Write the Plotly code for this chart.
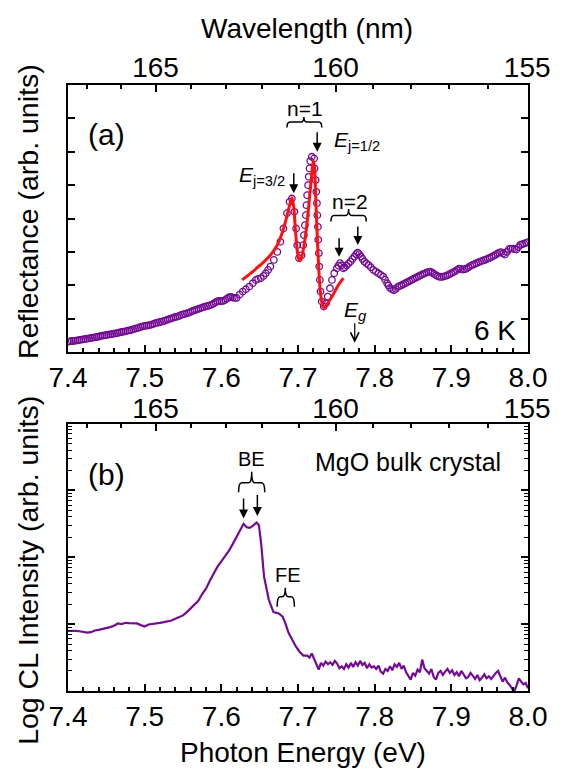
import plotly.graph_objects as go

FONT = "Liberation Sans, Arial, sans-serif"
PURPLE = "#730c92"
HC = 1239.84  # eV*nm

# ---------------- data: panel (a) reflectance (arb. units) ----------------
refl_energy_low = [
    7.4000, 7.4025, 7.4050, 7.4075, 7.4100, 7.4125, 7.4150, 7.4175, 7.4200, 7.4225,
    7.4250, 7.4275, 7.4300, 7.4325, 7.4350, 7.4375, 7.4400, 7.4425, 7.4450, 7.4475,
    7.4500, 7.4525, 7.4550, 7.4575, 7.4600, 7.4625, 7.4650, 7.4675, 7.4700, 7.4725,
    7.4750, 7.4775, 7.4800, 7.4825, 7.4850, 7.4875, 7.4900, 7.4925, 7.4950, 7.4975,
    7.5000, 7.5025, 7.5050, 7.5075, 7.5100, 7.5125, 7.5150, 7.5175, 7.5200, 7.5225,
    7.5250, 7.5275, 7.5300, 7.5325, 7.5350, 7.5375, 7.5400, 7.5425, 7.5450, 7.5475,
    7.5500, 7.5525, 7.5550, 7.5575, 7.5600, 7.5625, 7.5650, 7.5675, 7.5700, 7.5725,
    7.5750, 7.5775, 7.5800, 7.5825, 7.5850, 7.5875, 7.5900, 7.5925, 7.5950, 7.5975,
    7.6000, 7.6025, 7.6050, 7.6075, 7.6100, 7.6125, 7.6150, 7.6175, 7.6200,
]
refl_value_low = [
    0.31, 0.32, 0.33, 0.33, 0.34, 0.35, 0.36, 0.37, 0.38, 0.39,
    0.40, 0.41, 0.42, 0.43, 0.44, 0.45, 0.46, 0.48, 0.49, 0.50,
    0.51, 0.52, 0.53, 0.54, 0.55, 0.56, 0.57, 0.59, 0.60, 0.61,
    0.62, 0.64, 0.65, 0.66, 0.68, 0.70, 0.71, 0.73, 0.75, 0.77,
    0.78, 0.79, 0.80, 0.81, 0.83, 0.85, 0.87, 0.88, 0.90, 0.91,
    0.93, 0.95, 0.97, 0.99, 1.01, 1.03, 1.05, 1.06, 1.08, 1.11,
    1.13, 1.14, 1.16, 1.18, 1.20, 1.23, 1.25, 1.27, 1.29, 1.31,
    1.33, 1.35, 1.37, 1.38, 1.40, 1.42, 1.45, 1.49, 1.52, 1.53,
    1.52, 1.53, 1.56, 1.60, 1.64, 1.65, 1.63, 1.62, 1.62,
]
refl_energy_exc = [
    7.624, 7.628, 7.632, 7.6366, 7.641, 7.645, 7.648, 7.6515, 7.655, 7.658,
    7.661, 7.664, 7.6685, 7.673, 7.677, 7.681, 7.6856, 7.689, 7.692, 7.6953,
    7.6975, 7.699, 7.7013, 7.7047, 7.7068, 7.7077, 7.709, 7.7102, 7.711, 7.7119,
    7.7132, 7.714, 7.715, 7.716, 7.718, 7.721, 7.7217, 7.723, 7.7239, 7.7247,
    7.7252, 7.726, 7.7264, 7.7272, 7.7277, 7.7285, 7.7294, 7.731, 7.7336, 7.7366,
    7.7387, 7.7417, 7.7443, 7.7472, 7.7507, 7.7528, 7.7549, 7.757, 7.7591, 7.761,
    7.7634, 7.766, 7.7685, 7.771, 7.7736, 7.7758, 7.7779, 7.780, 7.7821, 7.7842,
    7.7864, 7.789, 7.7919, 7.795, 7.7983, 7.8015, 7.8047, 7.808, 7.8111, 7.8135,
    7.8162, 7.818,
]
refl_value_exc = [
    1.72, 1.81, 1.88, 1.96, 2.06, 2.16, 2.19, 2.21, 2.28, 2.36,
    2.46, 2.56, 2.76, 3.00, 3.30, 3.70, 4.16, 4.50, 4.60, 4.20,
    3.70, 3.20, 2.81, 2.90, 3.20, 3.50, 3.80, 4.10, 4.40, 4.70,
    5.00, 5.25, 5.50, 5.72, 5.85, 5.80, 5.50, 5.15, 4.80, 4.46,
    4.10, 3.75, 3.36, 2.96, 2.56, 2.16, 1.81, 1.51, 1.36, 1.46,
    1.66, 1.91, 2.16, 2.36, 2.51, 2.59, 2.66, 2.60, 2.51, 2.54,
    2.59, 2.65, 2.71, 2.79, 2.86, 2.93, 2.98, 2.93, 2.86, 2.79,
    2.71, 2.66, 2.61, 2.54, 2.46, 2.41, 2.36, 2.31, 2.26, 2.17,
    2.06, 1.99,
]
refl_energy_high = [
    7.8200, 7.8225, 7.8250, 7.8275, 7.8300, 7.8325, 7.8350, 7.8375, 7.8400, 7.8425,
    7.8450, 7.8475, 7.8500, 7.8525, 7.8550, 7.8575, 7.8600, 7.8625, 7.8650, 7.8675,
    7.8700, 7.8725, 7.8750, 7.8775, 7.8800, 7.8825, 7.8850, 7.8875, 7.8900, 7.8925,
    7.8950, 7.8975, 7.9000, 7.9025, 7.9050, 7.9075, 7.9100, 7.9125, 7.9150, 7.9175,
    7.9200, 7.9225, 7.9250, 7.9275, 7.9300, 7.9325, 7.9350, 7.9375, 7.9400, 7.9425,
    7.9450, 7.9475, 7.9500, 7.9525, 7.9550, 7.9575, 7.9600, 7.9625, 7.9650, 7.9675,
    7.9700, 7.9725, 7.9750, 7.9775, 7.9800, 7.9825, 7.9850, 7.9875, 7.9900, 7.9925,
    7.9950, 7.9975, 8.0000,
]
refl_value_high = [
    1.92, 1.88, 1.85, 1.89, 1.95, 1.98, 2.00, 2.03, 2.06, 2.09,
    2.12, 2.15, 2.18, 2.21, 2.24, 2.27, 2.30, 2.33, 2.35, 2.38,
    2.40, 2.41, 2.38, 2.34, 2.30, 2.27, 2.25, 2.25, 2.26, 2.28,
    2.30, 2.33, 2.36, 2.39, 2.42, 2.46, 2.50, 2.49, 2.47, 2.48,
    2.50, 2.54, 2.58, 2.61, 2.63, 2.66, 2.68, 2.71, 2.73, 2.75,
    2.77, 2.80, 2.82, 2.85, 2.88, 2.91, 2.95, 2.98, 2.99, 2.95,
    2.92, 3.00, 3.08, 3.10, 3.10, 3.08, 3.07, 3.14, 3.21, 3.23,
    3.25, 3.27, 3.29,
]
refl_energy = refl_energy_low + refl_energy_exc + refl_energy_high
refl_value = refl_value_low + refl_value_exc + refl_value_high

fit_energy = [
    7.6272, 7.6409, 7.6537, 7.6643, 7.6728, 7.6792, 7.6843, 7.6885, 7.692, 7.6945,
    7.6962, 7.6983, 7.7004, 7.7026, 7.7055, 7.709, 7.7124, 7.7153, 7.7183, 7.720,
    7.7217, 7.723, 7.7247, 7.7264, 7.7281, 7.7302, 7.7323, 7.7345, 7.7387, 7.7451,
    7.7515, 7.7591,
]
fit_value = [
    2.16, 2.41, 2.66, 2.91, 3.20, 3.56, 3.96, 4.35, 4.62, 4.35,
    3.80, 3.20, 2.83, 2.73, 2.90, 3.36, 4.00, 4.70, 5.40, 5.72,
    5.50, 4.70, 3.70, 2.81, 2.11, 1.61, 1.36, 1.33, 1.46, 1.69,
    1.96, 2.21,
]

# ---------------- data: panel (b) CL spectrum (log10 of intensity) ----------------
cl_energy = [
    7.400, 7.405, 7.410, 7.415, 7.420, 7.425, 7.430, 7.435, 7.440, 7.445,
    7.450, 7.455, 7.460, 7.465, 7.470, 7.475, 7.480, 7.485, 7.490, 7.495,
    7.500, 7.505, 7.510, 7.515, 7.520, 7.525, 7.530, 7.535, 7.540, 7.545,
    7.550, 7.555, 7.560, 7.565, 7.570, 7.575, 7.580, 7.585, 7.590, 7.595,
    7.600, 7.605, 7.610, 7.615, 7.620, 7.625, 7.629, 7.633, 7.637, 7.641,
    7.646, 7.649, 7.652, 7.6557, 7.662, 7.668, 7.6749, 7.680, 7.683, 7.6877,
    7.693, 7.697, 7.7025, 7.707,
    7.712, 7.715, 7.718, 7.721, 7.724, 7.727, 7.730, 7.733, 7.736, 7.739,
    7.742, 7.745, 7.748, 7.751, 7.754, 7.757, 7.760, 7.763, 7.766, 7.769,
    7.772, 7.775, 7.778, 7.781, 7.784, 7.787, 7.790, 7.793, 7.796, 7.799,
    7.802, 7.805, 7.808, 7.811, 7.814, 7.817, 7.820, 7.823, 7.826, 7.829,
    7.832, 7.835, 7.838, 7.841, 7.844, 7.847, 7.850, 7.853, 7.856, 7.859,
    7.862, 7.865, 7.868, 7.871, 7.874, 7.877, 7.880, 7.883, 7.886, 7.889,
    7.892, 7.895, 7.898, 7.901, 7.904, 7.907, 7.910, 7.913, 7.916, 7.919,
    7.922, 7.925, 7.928, 7.931, 7.934, 7.937, 7.940, 7.943, 7.946, 7.949,
    7.952, 7.955, 7.958, 7.961, 7.964, 7.967, 7.970, 7.973, 7.976, 7.979,
    7.982, 7.985, 7.988, 7.991, 7.994, 7.997, 8.000,
]
cl_log10 = [
    0.897, 0.900, 0.900, 0.893, 0.880, 0.872, 0.880, 0.905, 0.915, 0.925,
    0.940, 0.955, 0.975, 1.010, 1.000, 1.020, 1.015, 1.010, 1.010, 0.985,
    0.965, 0.995, 1.000, 1.005, 1.020, 1.030, 1.040, 1.055, 1.080, 1.110,
    1.130, 1.180, 1.240, 1.290, 1.350, 1.450, 1.530, 1.650, 1.760, 1.860,
    1.940, 2.020, 2.100, 2.200, 2.310, 2.430, 2.500, 2.450, 2.440, 2.470,
    2.520, 2.480, 2.200, 1.710, 1.360, 1.180, 1.160, 1.110, 1.030, 0.870,
    0.750, 0.670, 0.580, 0.530,
    0.53, 0.50, 0.56, 0.49, 0.40, 0.32, 0.42, 0.38, 0.44, 0.40,
    0.43, 0.39, 0.45, 0.41, 0.34, 0.37, 0.33, 0.40, 0.35, 0.42,
    0.36, 0.43, 0.38, 0.45, 0.39, 0.42, 0.34, 0.40, 0.35, 0.37,
    0.33, 0.38, 0.29, 0.26, 0.33, 0.30, 0.37, 0.31, 0.40, 0.36,
    0.42, 0.33, 0.38, 0.28, 0.22, 0.17, 0.27, 0.23, 0.32, 0.28,
    0.47, 0.34, 0.30, 0.26, 0.33, 0.21, 0.17, 0.27, 0.30, 0.24,
    0.29, 0.33, 0.27, 0.31, 0.24, 0.28, 0.22, 0.30, 0.25, 0.19,
    0.21, 0.27, 0.23, 0.18, 0.24, 0.16, 0.20, 0.25, 0.19, 0.22,
    0.18, 0.23, 0.27, 0.30, 0.22, 0.14, 0.20, 0.13, 0.09, 0.03,
    -0.01, 0.08, 0.19, 0.14, 0.10, 0.12, 0.04,
]
cl_intensity = [10 ** v for v in cl_log10]

# ---------------- tick definitions ----------------
energy_ticks = [7.4, 7.5, 7.6, 7.7, 7.8, 7.9, 8.0]
wl_major = [165, 160, 155]
wl_minor = [156, 157, 158, 159, 161, 162, 163, 164, 166, 167]
refl_ticks = [1, 2, 3, 4, 5, 6, 7]

fig = go.Figure()
fig.add_trace(go.Scatter(
    x=refl_energy, y=refl_value, mode="markers", xaxis="x", yaxis="y",
    marker=dict(symbol="circle-open", size=6.5, color=PURPLE, line=dict(width=1.3, color=PURPLE)),
    showlegend=False, hoverinfo="skip"))
fig.add_trace(go.Scatter(
    x=fit_energy, y=fit_value, mode="lines", xaxis="x", yaxis="y",
    line=dict(color="#ff1010", width=3, shape="spline", smoothing=0.6),
    showlegend=False, hoverinfo="skip"))
fig.add_trace(go.Scatter(
    x=cl_energy, y=cl_intensity, mode="lines", xaxis="x3", yaxis="y2",
    line=dict(color=PURPLE, width=2.2),
    showlegend=False, hoverinfo="skip"))
# empty traces so the wavelength axes get drawn
fig.add_trace(go.Scatter(x=[], y=[], xaxis="x2", yaxis="y", showlegend=False))
fig.add_trace(go.Scatter(x=[], y=[], xaxis="x4", yaxis="y2", showlegend=False))

tickfont = dict(family=FONT, size=28, color="black")
line_kw = dict(showline=True, linewidth=2, linecolor="black", showgrid=False, zeroline=False)

energy_axis = dict(
    range=[7.4, 8.0], tickmode="array", tickvals=energy_ticks,
    ticktext=[f"{v:.1f}" for v in energy_ticks],
    ticks="inside", ticklen=7, tickwidth=1.5, tickcolor="black",
    minor=dict(dtick=0.02, tick0=7.4, ticks="inside", ticklen=4, tickwidth=1.5, tickcolor="black", showgrid=False),
    tickfont=tickfont, ticklabelstandoff=-1, **line_kw)

wl_axis = dict(
    range=[7.4, 8.0], tickmode="array", tickvals=[HC / w for w in wl_major],
    ticktext=[str(w) for w in wl_major], side="top",
    ticks="inside", ticklen=7, tickwidth=1.5, tickcolor="black",
    minor=dict(tickmode="array", tickvals=[HC / w for w in wl_minor], ticks="inside",
               ticklen=4, tickwidth=1.5, tickcolor="black", showgrid=False),
    tickfont=tickfont, **line_kw)

# the page body has an 8 px default margin, so the figure is sized to compensate
fig.update_layout(
    width=555, height=763,
    margin=dict(l=60, r=25, t=77, b=80),
    paper_bgcolor="white", plot_bgcolor="white",
    font=dict(family=FONT, color="black"),
    xaxis=dict(anchor="y", domain=[0, 1], **energy_axis),
    xaxis2=dict(anchor="y", overlaying="x", ticklabelstandoff=-5, **wl_axis),
    xaxis3=dict(anchor="y2", domain=[0, 1], **energy_axis),
    xaxis4=dict(anchor="y2", overlaying="x3", ticklabelstandoff=-8, **wl_axis),
    yaxis=dict(anchor="x", domain=[0.5594, 1.0], range=[0, 8], tickmode="array", tickvals=refl_ticks,
               showticklabels=False, ticks="inside", ticklen=7, tickwidth=1.5, tickcolor="black",
               mirror="ticks", **line_kw),
    yaxis2=dict(anchor="x3", domain=[0, 0.4414], type="log", range=[0, 4], dtick=1,
                showticklabels=False, ticks="inside", ticklen=7, tickwidth=1.5, tickcolor="black",
                minor=dict(ticks="inside", ticklen=4, tickwidth=1.2, tickcolor="black", showgrid=False),
                mirror="ticks", **line_kw),
)

ann = []
def label(text, x, y, size, xref="x", yref="y", xanchor="center", yanchor="middle", angle=0):
    ann.append(dict(text=text, x=x, y=y, xref=xref, yref=yref, showarrow=False,
                    xanchor=xanchor, yanchor=yanchor, textangle=angle,
                    font=dict(family=FONT, size=size, color="black")))

def arrow(x, y_tip, y_tail, xref="x", yref="y", head=2, size=1.2, width=1.5):
    ann.append(dict(text="", x=x, y=y_tip, ax=x, ay=y_tail, xref=xref, yref=yref,
                    axref=xref, ayref=yref, showarrow=True, arrowhead=head,
                    arrowsize=size, arrowwidth=width, arrowcolor="black", standoff=0))

# axis titles
label("Wavelength (nm)", 0.52, 1.094, 28, xref="paper", yref="paper")
label("Photon Energy (eV)", 0.511, -0.102, 28, xref="paper", yref="paper")
label("Reflectance (arb. units)", -0.0872, 0.792, 28.5, xref="paper", yref="paper", angle=-90)
label("Log CL Intensity (arb. units)", -0.0872, 0.1997, 28.5, xref="paper", yref="paper", angle=-90)

# panel (a) labels
label("(a)", 7.4504, 6.53, 30)
label("6 K", 7.957, 0.63, 28)
label("n=1", 7.7096, 7.30, 21)
label("n=2", 7.768, 4.51, 21)
label("<i>E</i><sub>j=1/2</sub>", 7.7447, 6.32, 21, xanchor="left")
label("<i>E</i><sub>j=3/2</sub>", 7.6856, 5.27, 21, xanchor="right")
label("<i>E<sub>g</sub></i>", 7.7753, 1.23, 21)
arrow(7.725, 6.0, 6.63)
arrow(7.6945, 4.755, 5.40)
arrow(7.7536, 2.855, 3.455)
arrow(7.778, 3.206, 3.805)
arrow(7.774, 0.28, 0.91, head=5, size=1.4, width=1.2)

# panel (b) labels
label("(b)", 7.4504, 3.24, 30, xref="x3", yref="y2")
label("MgO bulk crystal", 7.843, 3.42, 25, xref="x3", yref="y2")
label("BE", 7.6387, 3.47, 20, xref="x3", yref="y2")
label("FE", 7.6872, 1.73, 20, xref="x3", yref="y2")
arrow(7.629, 2.58, 2.90, xref="x3", yref="y2")
arrow(7.647, 2.616, 2.955, xref="x3", yref="y2")

fig.update_layout(annotations=ann)

# curly brackets (x in energy, y in paper coordinates)
def bracket(xl, xr, xc, y_line, y_end, y_nub, xref):
    d = 0.004
    path = (f"M {xl},{y_end} Q {xl},{y_line} {xl + d},{y_line} "
            f"L {xc - d},{y_line} Q {xc},{y_line} {xc},{y_nub} "
            f"Q {xc},{y_line} {xc + d},{y_line} L {xr - d},{y_line} "
            f"Q {xr},{y_line} {xr},{y_end}")
    fig.add_shape(type="path", path=path, xref=xref, yref="paper",
                  line=dict(color="black", width=1.5))

bracket(7.6856, 7.731, 7.7077, 0.9389, 0.9299, 0.9472, "x")
bracket(7.743, 7.789, 7.766, 0.7847, 0.7748, 0.7954, "x")
bracket(7.6225, 7.6566, 7.6396, 0.3437, 0.3279, 0.3619, "x3")
bracket(7.6728, 7.6953, 7.6834, 0.1556, 0.1391, 0.1705, "x3")

fig.write_html("out.html")
